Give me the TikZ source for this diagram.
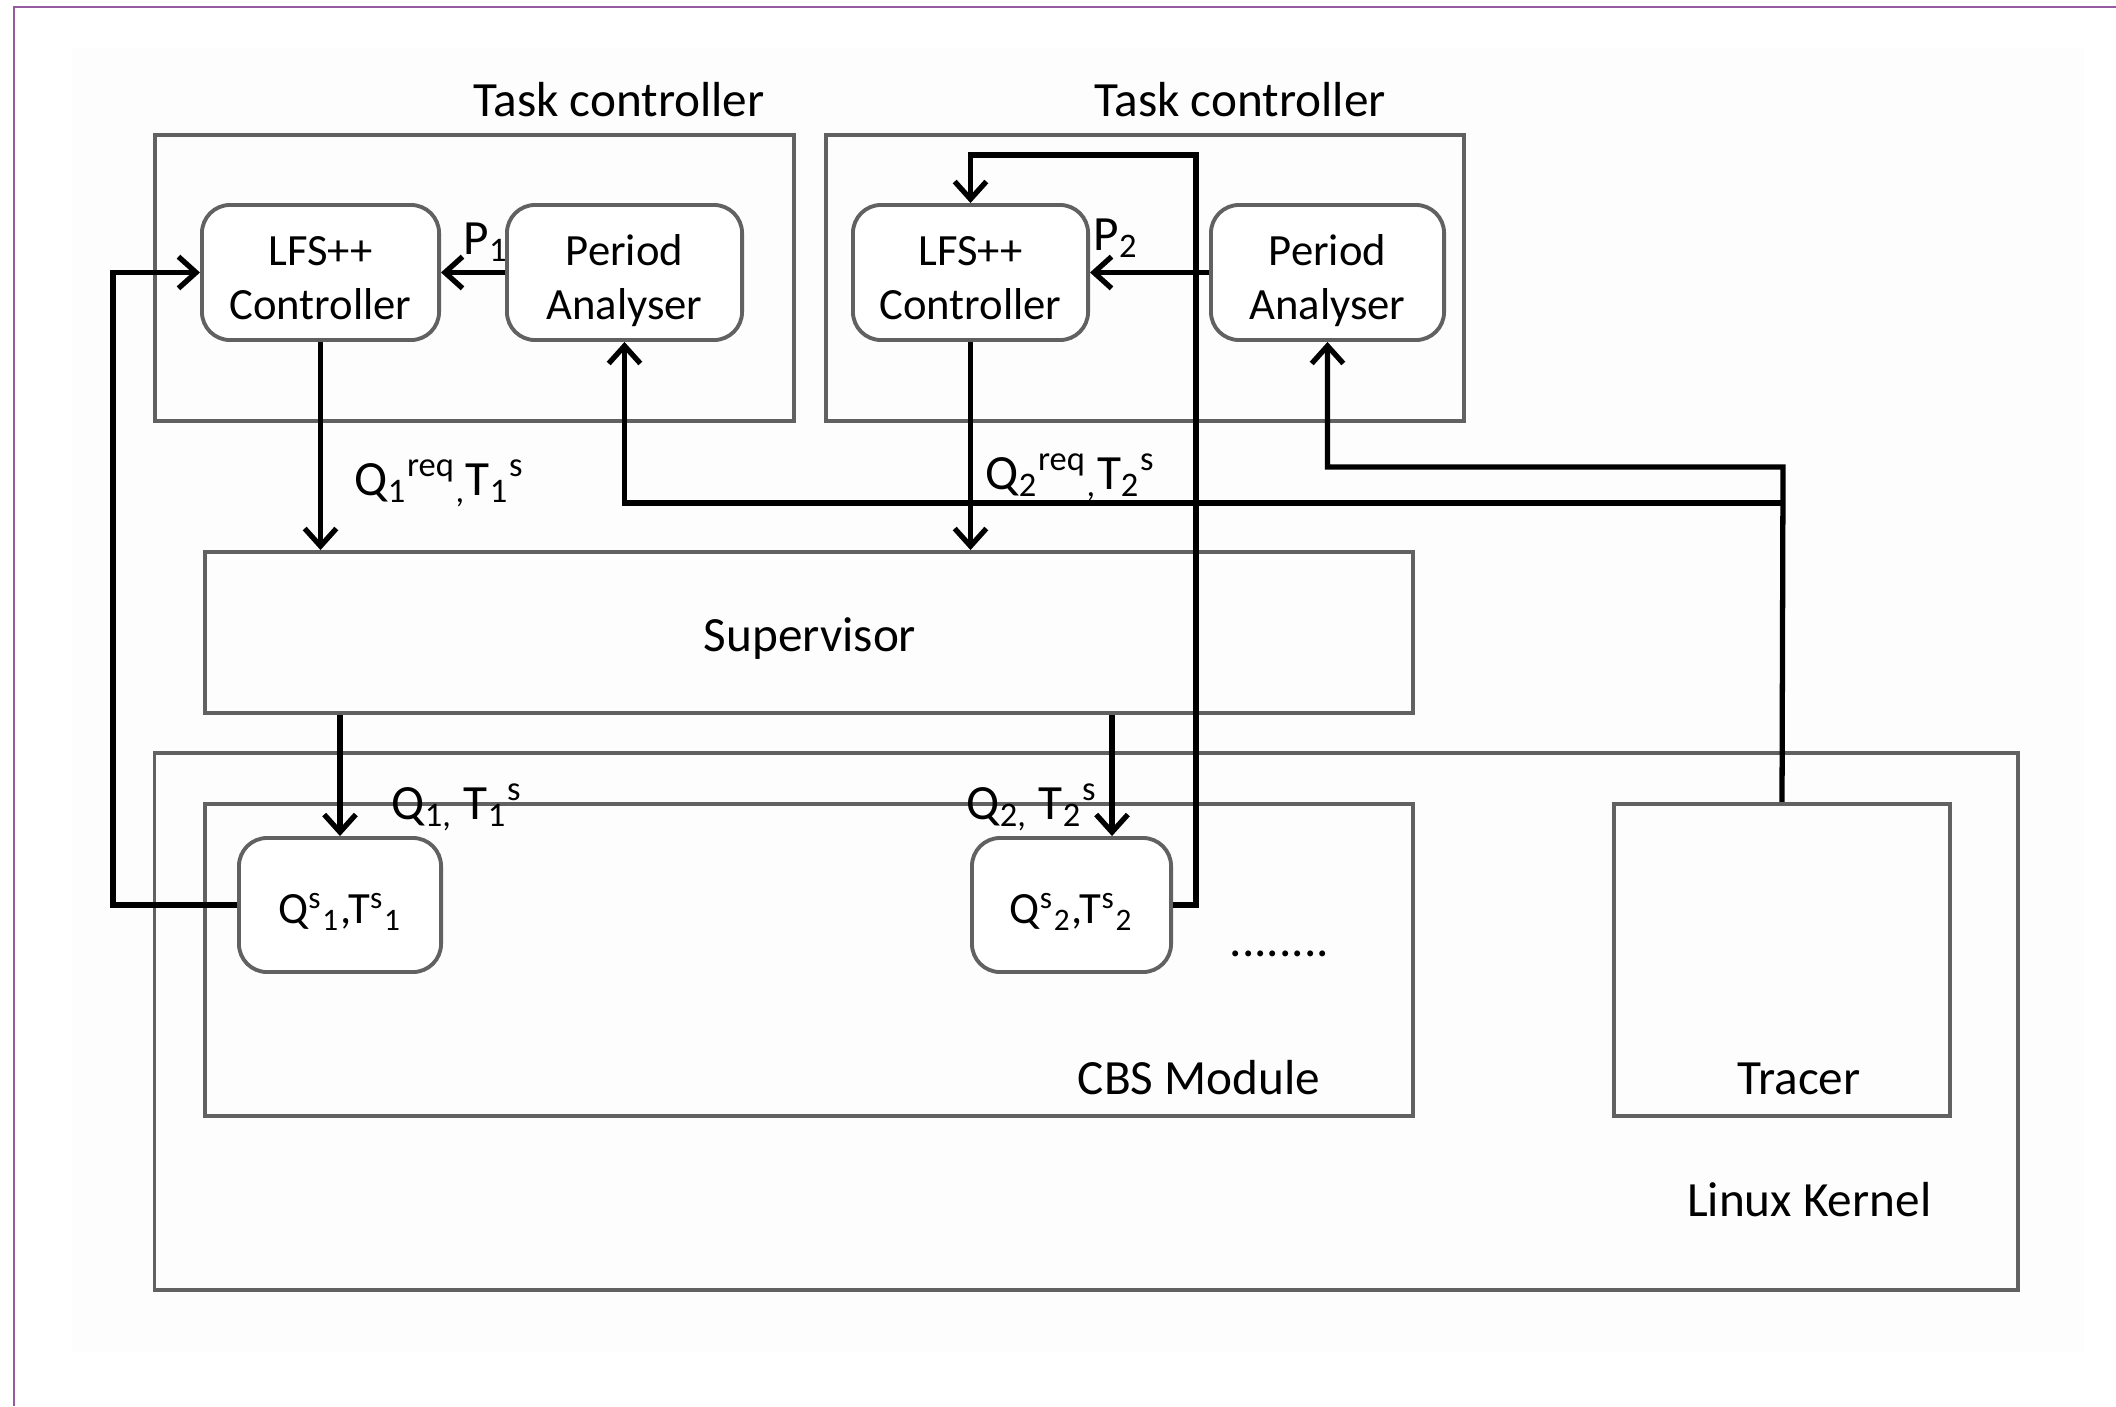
\documentclass[tikz,border=0pt]{standalone}
\usepackage{fontspec}
\setmainfont{Carlito}
\usetikzlibrary{arrows.meta}
\definecolor{pageedge}{RGB}{150,90,160}

\begin{document}
\begin{tikzpicture}[x=0.01cm, y=-0.01cm]
        \tikzset{
            frame/.style={draw=black!62, line width=1.1pt, inner sep=0pt},
            block/.style={frame, rounded corners=8pt, fill=white, align=center,
                font=\fontsize{12.7}{15.5}\selectfont},
            duo/.style={block, text height=27pt, text depth=0pt},
            cell/.style={block, text height=12.5pt},
            title/.style={font=\fontsize{14}{17}\selectfont, inner sep=0pt},
            flow/.style={line width=1.5pt, -{Straight Barb[length=5pt, width=9pt]}}
        }
        \useasboundingbox (0,0) rectangle (2116,1406);
        \fill[black!0.7] (72,48) rectangle (2084,1352);
        \draw[pageedge, line width=0.6pt] (13,7) -- (2116,7);
        \draw[pageedge, line width=0.6pt] (14,7) -- (14,1406);

        % task controllers
        \node[frame, minimum width=6.39cm, minimum height=2.86cm] (tc1) at (474.5,278) {};
        \node[frame, minimum width=6.38cm, minimum height=2.86cm] (tc2) at (1145,278) {};
        \node[title, anchor=base] (tct1) at (619,116) {Task controller};
        \node[title, anchor=base] (tct2) at (1240,116) {Task controller};

        \node[duo, minimum width=2.37cm, minimum height=1.35cm] (lfs1) at (320.5,272.5) {LFS++\\Controller};
        \node[duo, minimum width=2.35cm, minimum height=1.35cm] (pa1) at (624.5,272.5) {Period\\Analyser};
        \node[duo, minimum width=2.35cm, minimum height=1.35cm] (lfs2) at (970.5,272.5) {LFS++\\Controller};
        \node[duo, minimum width=2.33cm, minimum height=1.35cm] (pa2) at (1327.5,272.5) {Period\\Analyser};

        % supervisor and kernel
        \node[frame, minimum width=12.08cm, minimum height=1.61cm] (sup) at (809,632.5) {};
        \node[title, anchor=base] (supt) at (810,651) {Supervisor};
        \node[frame, minimum width=18.62cm, minimum height=5.37cm] (kernel) at (1086,1021.5) {};
        \node[frame, minimum width=12.08cm, minimum height=3.12cm] (cbs) at (809,960) {};
        \node[frame, minimum width=3.36cm, minimum height=3.12cm] (tracer) at (1782,960) {};
        \node[cell, minimum width=2.02cm, minimum height=1.34cm] (q1) at (340,905)
            {Q\textsuperscript{s}\textsubscript{1},T\textsuperscript{s}\textsubscript{1}};
        \node[cell, minimum width=1.99cm, minimum height=1.34cm] (q2) at (1071.5,905)
            {Q\textsuperscript{s}\textsubscript{2},T\textsuperscript{s}\textsubscript{2}};

        \node[title, anchor=base east] (cbst) at (1321,1094) {CBS Module};
        \node[title, anchor=base] (trt) at (1799,1094) {Tracer};
        \node[title, anchor=base east] (lkt) at (1932,1216) {Linux Kernel};
        \node[title, anchor=base west] (dots) at (1229,956) {........};

        % signal labels
        \node[title, anchor=base west] (p1) at (463,254) {P\textsubscript{1}};
        \node[title, anchor=base west] (p2) at (1093,250) {P\textsubscript{2}};
        \node[title, anchor=base west] (req1) at (354,495)
            {Q\textsubscript{1}\textsuperscript{req}\textsubscript{,}T\textsubscript{1}\textsuperscript{s}};
        \node[title, anchor=base west] (req2) at (985,489)
            {Q\textsubscript{2}\textsuperscript{req}\textsubscript{,}T\textsubscript{2}\textsuperscript{s}};
        \node[title, anchor=base west] (set1) at (391,819)
            {Q\textsubscript{1,} T\textsubscript{1}\textsuperscript{s}};
        \node[title, anchor=base west] (set2) at (966,819)
            {Q\textsubscript{2,} T\textsubscript{2}\textsuperscript{s}};

        \coordinate (fbl) at (113,0);
        \coordinate (fbr) at (1196,155);
        \coordinate (drop2) at (1112,0);
        \coordinate (tr2) at (1783,467);
        \coordinate (tr1) at (1783,503);

        % connectors
        \draw[flow] (pa1.west) -- (lfs1.east);
        \draw[flow] (pa2.west) -- (lfs2.east);
        \draw[flow] (lfs1.south) -- (sup.north -| lfs1.south);
        \draw[flow] (lfs2.south) -- (sup.north -| lfs2.south);
        \draw[flow] (sup.south -| q1.north) -- (q1.north);
        \draw[flow] (sup.south -| drop2) -- (q2.north -| drop2);
        \draw[flow] (q1.west) -- (q1.west -| fbl) |- (lfs1.west);
        \draw[flow] (q2.east) -| (fbr) -| (lfs2.north);
        \draw[flow] (tracer.north) -- (tr2) -| (pa2.south);
        \draw[flow] (tr1) -| (pa1.south);
\end{tikzpicture}
\end{document}
